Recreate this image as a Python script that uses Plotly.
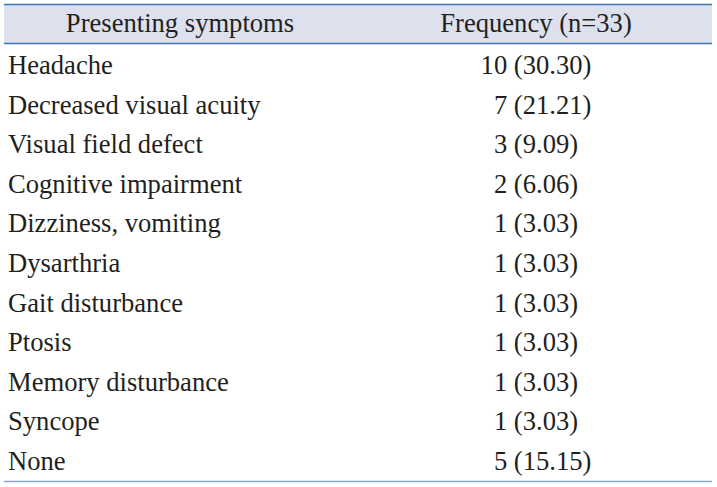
import plotly.graph_objects as go

header_labels = ["Presenting symptoms", "Frequency (n=33)"]
symptoms = ["Headache", "Decreased visual acuity", "Visual field defect",
            "Cognitive impairment", "Dizziness, vomiting", "Dysarthria",
            "Gait disturbance", "Ptosis", "Memory disturbance", "Syncope", "None"]
counts = [10, 7, 3, 2, 1, 1, 1, 1, 1, 1, 5]
percents = ["30.30", "21.21", "9.09", "6.06", "3.03", "3.03", "3.03", "3.03",
            "3.03", "3.03", "15.15"]

FS = "\u2007"  # figure space, digit width


def fmt(c, p):
    s = f"{c} ({p})"
    lead = FS if c < 10 else ""
    trail = FS if len(p) < 5 else ""
    return lead + s + trail


freq = [fmt(c, p) for c, p in zip(counts, percents)]

W, H = 717, 487
ML, MR, MT, MB = 0, 5, 4, 5
TXT = "#231f20"
FONT = "Liberation Serif"
SIZE = 26.6

fig = go.Figure(go.Table(
    columnwidth=[360, 352],
    header=dict(values=header_labels, align="center", height=42,
                fill_color="#dde1ee", line=dict(width=0, color="rgba(0,0,0,0)"),
                font=dict(family=FONT, size=SIZE, color=TXT)),
    cells=dict(values=[symptoms, freq], align=["left", "center"], height=39.6,
               fill_color="white", line=dict(width=0, color="rgba(0,0,0,0)"),
               font=dict(family=FONT, size=SIZE, color=TXT)),
))

pw = W - ML - MR
ph = H - MT - MB


def px_x(x):
    return (x - ML) / pw


def px_y(y):
    return 1 - (y - MT) / ph


# white strip below the header rule and left of the table edge
fig.add_shape(type="rect", xref="paper", yref="paper", layer="above",
              x0=px_x(0), x1=px_x(717), y0=px_y(47), y1=px_y(43.5),
              fillcolor="white", line=dict(width=0))
fig.add_shape(type="rect", xref="paper", yref="paper", layer="above",
              x0=px_x(0), x1=px_x(4), y0=px_y(487), y1=px_y(0),
              fillcolor="white", line=dict(width=0))

for y, col, w in [(4.5, "#3d75b8", 1.5), (43.5, "#3d75b8", 1.5), (481.5, "#8aa9cc", 1.6)]:
    fig.add_shape(type="line", xref="paper", yref="paper", layer="above",
                  x0=px_x(4), x1=px_x(712), y0=px_y(y), y1=px_y(y),
                  line=dict(color=col, width=w))

fig.update_layout(width=W, height=H, margin=dict(l=ML, r=MR, t=MT, b=MB),
                  paper_bgcolor="white", plot_bgcolor="white")
fig.write_html("out.html", config={"displayModeBar": False},
               post_script="document.body.style.margin='0px';document.body.style.overflow='hidden';")
